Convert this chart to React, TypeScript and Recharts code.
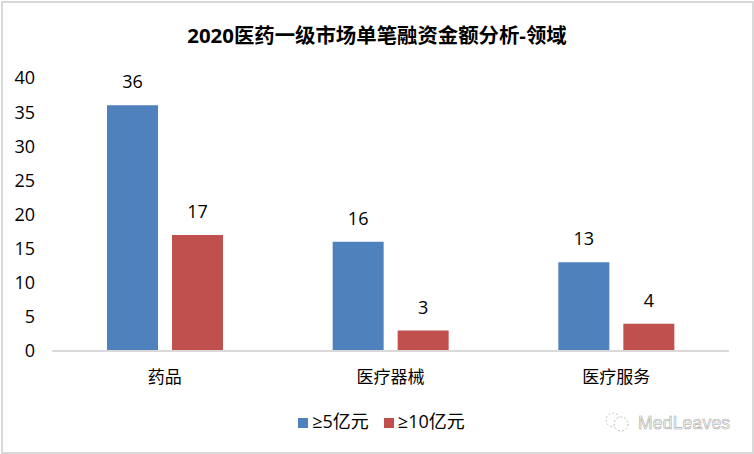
import React from "react";
import { BarChart, Bar, XAxis, YAxis, Legend, LabelList } from "recharts";

const categories = ["药品", "医疗器械", "医疗服务"];
const over5 = [36, 16, 13];
const over10 = [17, 3, 4];
const yTicks = [0, 5, 10, 15, 20, 25, 30, 35, 40];
const titleText = "2020医药一级市场单笔融资金额分析-领域";
const watermark = "MedLeaves";

const data = categories.map((name, i) => ({ name, a: over5[i], b: over10[i] }));
const FONT = '"Open Sans", "Noto Sans CJK SC", sans-serif';

export default function App() {
  return (
    <div style={{ position: "absolute", left: 0, top: 0, width: 754, height: 454, background: "#fff", fontFamily: FONT }}>
      <div style={{ position: "absolute", left: 1, top: 1, width: 749, height: 449, border: "2px solid #d9d9d9" }} />
      <div style={{ position: "absolute", left: 0, top: 21, width: 754, textAlign: "center", fontSize: 20.4, fontWeight: 700, lineHeight: "28px", color: "#000" }}>
        {titleText}
      </div>
      <BarChart
        width={754}
        height={454}
        data={data}
        margin={{ top: 78, right: 25, bottom: 43, left: 0 }}
        barSize={51}
        barGap={14}
        style={{ position: "absolute", left: 0, top: 0 }}
      >
        <XAxis
          dataKey="name"
          height={60}
          axisLine={{ stroke: "#d9d9d9", strokeWidth: 2 }}
          tickLine={false}
          tickMargin={14}
          tick={{ fontSize: 17, fill: "#000", fontFamily: FONT }}
        />
        <YAxis
          width={52}
          domain={[0, 40]}
          ticks={yTicks}
          interval={0}
          axisLine={false}
          tickLine={false}
          tickSize={0}
          tickMargin={17}
          tick={{ fontSize: 18, fill: "#000", fontFamily: FONT }}
        />
        <Legend
          layout="horizontal"
          verticalAlign="middle"
          align="center"
          iconType="square"
          iconSize={10}
          itemSorter="dataKey"
          wrapperStyle={{ top: 409, left: 289, width: 200, height: 26, fontSize: 18, lineHeight: "24px", whiteSpace: "nowrap" }}
          formatter={(v: string) => <span style={{ color: "#000", marginRight: 5 }}>{v}</span>}
        />
        <Bar dataKey="a" name="≥5亿元" fill="#4f81bd" isAnimationActive={false}>
          <LabelList dataKey="a" position="top" offset={17} fill="#000" fontSize={18} fontFamily={FONT} />
        </Bar>
        <Bar dataKey="b" name="≥10亿元" fill="#c0504d" isAnimationActive={false}>
          <LabelList dataKey="b" position="top" offset={17} fill="#000" fontSize={18} fontFamily={FONT} />
        </Bar>
      </BarChart>
      <svg width={30} height={24} style={{ position: "absolute", left: 603, top: 410 }}>
        <circle cx={10} cy={10} r={7} fill="none" stroke="#c4c4c4" strokeDasharray="2 2" />
        <circle cx={18} cy={14} r={7} fill="#fff" stroke="#bdbdbd" strokeDasharray="2 2" />
      </svg>
      <div style={{ position: "absolute", left: 638, top: 411, fontSize: 17.5, lineHeight: "24px", color: "#fff", letterSpacing: 0.2, WebkitTextStroke: "0.6px #a8a8a8", fontFamily: '"Liberation Sans", sans-serif' }}>
        {watermark}
      </div>
    </div>
  );
}
